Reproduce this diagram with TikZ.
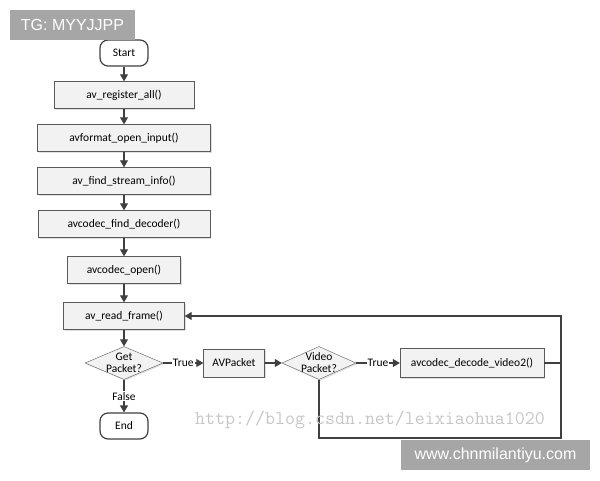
\documentclass[tikz,border=0pt]{standalone}
\usepackage{fontspec}
\setmainfont{Carlito}
\newfontfamily\markfont{Liberation Sans}
\usetikzlibrary{shapes.geometric,arrows.meta,shadows}
\definecolor{linegray}{HTML}{404040}
\definecolor{boxline}{HTML}{5A5A5A}
\definecolor{boxfill}{HTML}{F2F2F2}
\definecolor{markgray}{HTML}{A6A6A6}
\definecolor{urlgray}{HTML}{C6C6C6}

\begin{document}
\begin{tikzpicture}[x=1pt, y=1pt, node distance=43pt, every node/.style={font=\fontsize{11.5}{12}\selectfont},
  box/.style={draw=boxline, fill=boxfill, minimum height=27pt, inner sep=0pt, drop shadow={opacity=0.25, shadow xshift=1.2pt, shadow yshift=-1.2pt}},
  term/.style={draw=linegray, fill=white, line width=1.2pt, rounded corners=8pt, minimum width=48pt, minimum height=26pt, inner sep=0pt},
  cond/.style={box, diamond, aspect=2.36, inner sep=-4pt, minimum width=78pt, minimum height=33pt, align=center},
  flow/.style={draw=linegray, line width=1.2pt, -{Triangle[length=7pt,width=8pt]}},
  tag/.style={fill=white, inner sep=1pt},
  stamp/.style={fill=markgray, text=white, font=\markfont\fontsize{16}{16}\selectfont, minimum height=30pt, inner sep=0pt}]
\useasboundingbox (0,0) rectangle (600,480);
\node[term] (start) at (124,427) {Start};
\node[box, below of=start, node distance=42pt, minimum width=140pt] (reg) {av\_register\_all()};
\node[box, below of=reg, minimum width=173pt] (input) {avformat\_open\_input()};
\node[box, below of=input, minimum width=173pt] (info) {av\_find\_stream\_info()};
\node[box, below of=info, minimum width=172pt] (finddec) {avcodec\_find\_decoder()};
\node[box, below of=finddec, node distance=46pt, minimum width=113pt] (open) {avcodec\_open()};
\node[box, below of=open, node distance=46pt, minimum width=121pt] (read) {av\_read\_frame()};
\node[cond, below of=read, node distance=47pt] (get) {Get\\Packet?};
\node[term, below of=get, node distance=63pt] (end) {End};
\node[box, right of=get, node distance=110pt, minimum width=61pt, minimum height=28pt] (pkt) {AVPacket};
\node[cond, right of=pkt, node distance=85pt, minimum width=74pt] (video) {Video\\Packet?};
\node[box, right of=video, node distance=153pt, minimum width=144pt, minimum height=29pt] (decode) {avcodec\_decode\_video2()};
\coordinate (corner) at (561,42);
\draw[flow] (start) -- (reg);
\draw[flow] (reg) -- (input);
\draw[flow] (input) -- (info);
\draw[flow] (info) -- (finddec);
\draw[flow] (finddec) -- (open);
\draw[flow] (open) -- (read);
\draw[flow] (read) -- (get);
\draw[flow] (get.south) -- node[tag] {False} (end);
\draw[flow] (get.east) -- node[tag] {True} (pkt);
\draw[flow] (pkt) -- (video.west);
\draw[flow] (video.east) -- node[tag] {True} (decode);
\draw[draw=linegray, line width=1.2pt] (decode.east) -- (decode.east -| corner);
\draw[flow] (video.south) |- (corner) |- (read.east);
% watermarks
\node[text=urlgray, font=\fontsize{19.4}{19.4}\ttfamily] (url) at (370,60) {http://blog.csdn.net/leixiaohua1020};
\node[stamp, minimum width=125pt] (tg) at (72.5,455) {TG: MYYJJPP};
\node[stamp, minimum width=189pt] (site) at (495.5,25) {www.chnmilantiyu.com};
\end{tikzpicture}
\end{document}
